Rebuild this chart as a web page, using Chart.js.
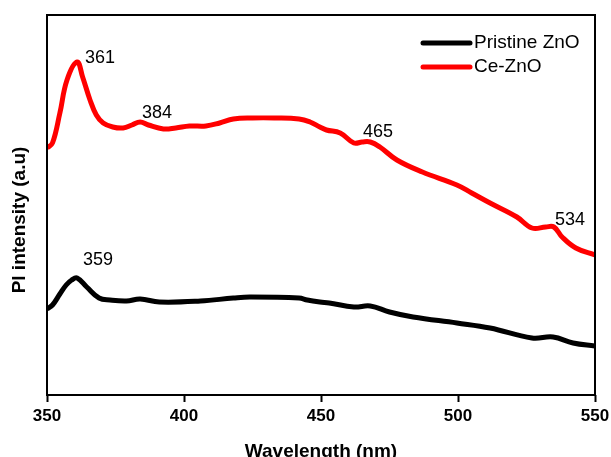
<!DOCTYPE html>
<html>
<head>
<meta charset="utf-8">
<script src="https://cdn.jsdelivr.net/npm/chart.js@4.4.1/dist/chart.umd.min.js"></script>
<style>
    body { margin: 0; background: #fff; }
    #wrap { width: 611px; height: 457px; }
</style>
</head>
<body>
<div id="wrap"><canvas id="plChart"></canvas></div>
<script>
// Wavelength (nm) and PL intensity (arbitrary units)
const ceWavelength = [350, 352, 354.7, 357.3, 361, 363, 365.7, 368, 370.5, 374, 377.8, 381, 384, 387, 392.5, 397, 402, 408, 413, 418, 425, 433, 442, 446, 449.6, 452, 457, 462, 465, 468, 471.5, 477.7, 487, 499.6, 505, 511.7, 521.5, 527, 532, 535, 538, 543, 550];
const ceIntensity  = [247, 252, 282, 315, 333, 318, 295, 280, 272, 268, 267, 270, 273, 270, 266, 267, 269, 269, 272, 276, 277, 277, 276, 273, 268, 265, 262, 252, 253, 253, 248, 235, 223, 210, 202, 192, 178, 167, 168, 168, 158, 147, 140];

const znoWavelength = [350, 352, 354.7, 357, 359, 361, 364.5, 369, 373, 379, 384, 391, 406, 418, 424, 442, 445, 449.6, 453, 462, 468, 475, 483.6, 499.6, 511.7, 527, 534.7, 542, 550];
const znoIntensity  = [86, 90, 101, 110, 115, 117, 108, 97, 95, 94, 96, 93, 94, 97, 98, 97, 95, 93, 92, 88, 89, 83, 78, 72, 67, 57, 58, 52, 49];

const xTicks = [350, 400, 450, 500, 550];

// Peak labels: text, wavelength and intensity where the text starts
const peakText = ['361', '384', '465', '534', '359'];
const peakX    = [363.9, 384.7, 465.3, 535.4, 363.1];
const peakY    = [332, 277, 258, 170, 130];

const seriesNames  = ['Pristine ZnO', 'Ce-ZnO'];
const seriesColors = ['#000000', '#ff0000'];

function toPoints(xs, ys) {
    return xs.map((x, i) => ({ x: x, y: ys[i] }));
}

// Frame, axis titles, legend and peak labels
const decorPlugin = {
    id: 'decor',
    afterDraw(chart) {
        const ctx = chart.ctx;
        const area = chart.chartArea;
        const xs = chart.scales.x;
        const ys = chart.scales.y;
        ctx.save();

        ctx.strokeStyle = '#000';
        ctx.lineWidth = 2;
        ctx.strokeRect(area.left, area.top, area.right - area.left, area.bottom - area.top);

        ctx.fillStyle = '#000';
        ctx.font = 'bold 19px "Liberation Sans", Arial, sans-serif';
        ctx.textAlign = 'center';
        ctx.textBaseline = 'middle';
        ctx.fillText('Wavelength (nm)', (area.left + area.right) / 2, 452);

        ctx.save();
        ctx.translate(20, 220);
        ctx.rotate(-Math.PI / 2);
        ctx.font = 'bold 19px "Liberation Sans", Arial, sans-serif';
        ctx.fillText('Pl intensity (a.u)', 0, 0);
        ctx.restore();

        // legend
        ctx.font = '19px "Liberation Sans", Arial, sans-serif';
        ctx.textAlign = 'left';
        seriesNames.forEach((name, i) => {
            const y = 43 + i * 24;
            ctx.strokeStyle = seriesColors[i];
            ctx.lineWidth = 5;
            ctx.lineCap = 'round';
            ctx.beginPath();
            ctx.moveTo(423, y);
            ctx.lineTo(470, y);
            ctx.stroke();
            ctx.fillStyle = '#000';
            ctx.fillText(name, 474, y);
        });

        // peak labels
        ctx.font = '18px "Liberation Sans", Arial, sans-serif';
        ctx.textBaseline = 'alphabetic';
        peakText.forEach((t, i) => {
            ctx.fillText(t, xs.getPixelForValue(peakX[i]), ys.getPixelForValue(peakY[i]));
        });

        ctx.restore();
    }
};

const ctx = document.getElementById('plChart').getContext('2d');
const plChart = new Chart(ctx, {
    type: 'line',
    data: {
        datasets: [
            { label: seriesNames[0], data: toPoints(znoWavelength, znoIntensity), borderColor: seriesColors[0], borderWidth: 5, pointRadius: 0, tension: 0.4, fill: false },
            { label: seriesNames[1], data: toPoints(ceWavelength, ceIntensity), borderColor: seriesColors[1], borderWidth: 5, pointRadius: 0, tension: 0.4, fill: false }
        ]
    },
    options: {
        responsive: true,
        maintainAspectRatio: false,
        animation: false,
        devicePixelRatio: 1,
        layout: { padding: { top: 15, right: 16, left: 0, bottom: 0 } },
        plugins: { legend: { display: false }, tooltip: { enabled: false } },
        scales: {
            x: {
                type: 'linear',
                min: 350,
                max: 550,
                afterBuildTicks: scale => { scale.ticks = xTicks.map(v => ({ value: v })); },
                afterFit: scale => {
                    scale.height = 62;
                    scale.paddingLeft = 0;
                    scale.paddingRight = 0;
                },
                grid: { drawOnChartArea: false, drawTicks: true, tickLength: 7, tickWidth: 2, tickColor: '#000' },
                border: { display: false },
                ticks: {
                    color: '#000',
                    padding: 4,
                    maxRotation: 0,
                    font: { family: '"Liberation Sans", Arial, sans-serif', size: 17, weight: 'bold' }
                }
            },
            y: {
                min: 0,
                max: 380,
                afterFit: scale => { scale.width = 47; },
                grid: { display: false },
                border: { display: false },
                ticks: { display: false }
            }
        }
    },
    plugins: [decorPlugin]
});
</script>
</body>
</html>
